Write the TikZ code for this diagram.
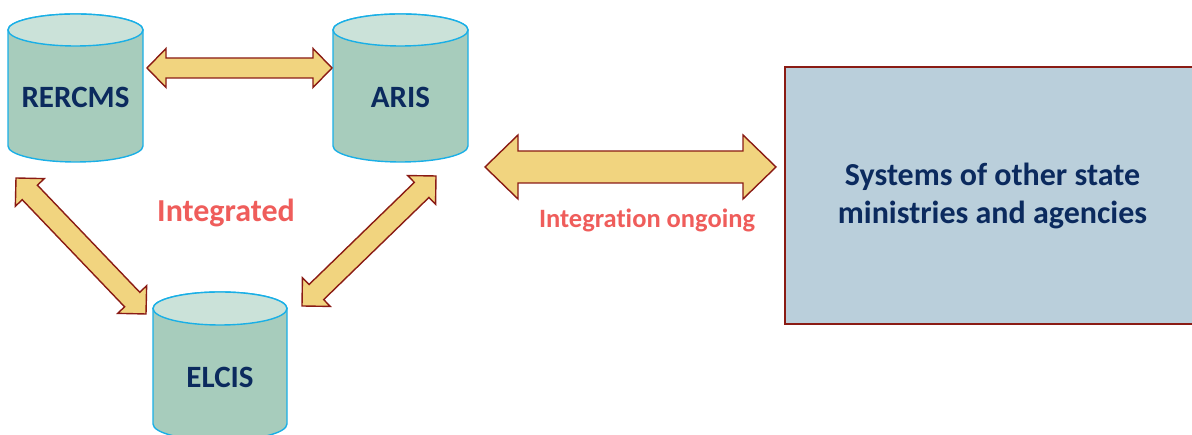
\documentclass[tikz,border=0pt]{standalone}
\usepackage{fontspec}
\setmainfont[Ligatures=NoCommon]{Carlito}
\usetikzlibrary{calc}
\definecolor{cylbody}{HTML}{A7CCBC}
\definecolor{cyltop}{HTML}{CBE2D9}
\definecolor{cylline}{HTML}{1AAFE6}
\definecolor{arrfill}{HTML}{F1D47F}
\definecolor{arrline}{HTML}{8A1B14}
\definecolor{boxfill}{HTML}{BACFDB}
\definecolor{navy}{HTML}{0B2A5E}
\definecolor{lblred}{HTML}{EF5D5B}
\tikzset{
  cylbodystyle/.style={fill=cylbody,draw=cylline,line width=1.4pt},
  cyltopstyle/.style={fill=cyltop,draw=cylline,line width=1.4pt},
  cyltext/.style={text=navy,font=\bfseries\fontsize{31}{36}\selectfont,inner sep=0pt},
  blockarr/.style={fill=arrfill,draw=arrline,line width=1.4pt,line join=miter},
  lbl/.style={text=lblred,font=\bfseries\fontsize{#1}{#1}\selectfont,inner sep=0pt,anchor=base},
  sysbox/.style={fill=boxfill,draw=arrline,line width=1.4pt,text=navy,align=center,
    font=\bfseries\fontsize{32}{38}\selectfont,inner sep=0pt}
}
% #1 name, #2 cx, #3 top y, #4 bottom y, #5 rx, #6 ry, #7 text y, #8 text
\newcommand\dbcyl[8]{%
  \path[cylbodystyle] (#2-#5,#3) -- (#2-#5,#4)
     arc[start angle=180,end angle=360,x radius=#5,y radius=#6]
     -- (#2+#5,#3) arc[start angle=0,end angle=180,x radius=#5,y radius=#6] -- cycle;
  \path[cyltopstyle] (#2,#3) ellipse[x radius=#5,y radius=#6];
  \node[cyltext] (#1) at (#2,#7) {#8};
}
% #1,#2 tip coordinates; #3 shaft half width; #4 head half width; #5 head length
\newcommand\blockarrow[5]{%
  \draw[blockarr] (#1)
   -- ($(#1)!#5!(#2)!#4!90:(#2)$)
   -- ($(#1)!#5!(#2)!#3!90:(#2)$)
   -- ($(#2)!#5!(#1)!#3!-90:(#1)$)
   -- ($(#2)!#5!(#1)!#4!-90:(#1)$)
   -- (#2)
   -- ($(#2)!#5!(#1)!#4!90:(#1)$)
   -- ($(#2)!#5!(#1)!#3!90:(#1)$)
   -- ($(#1)!#5!(#2)!#3!-90:(#2)$)
   -- ($(#1)!#5!(#2)!#4!-90:(#2)$)
   -- cycle;}
\begin{document}
\begin{tikzpicture}[x=1pt,y=1pt]
\useasboundingbox (0,0) rectangle (1192,435);
% cylinders
\dbcyl{rercms}{75.5}{405}{289}{67.5}{16}{338}{RERCMS}
\dbcyl{aris}{400.5}{405}{289}{67.5}{16}{338}{ARIS}
\dbcyl{elcis}{220}{126.5}{11}{67}{16.5}{58}{ELCIS}
% box
\node[sysbox,minimum width=415pt,minimum height=257pt] (sys) at (992.5,239.5)
  {Systems of other state\\ministries and agencies};
% arrow tips
\coordinate (t1a) at (147,367);
\coordinate (t1b) at (332,367);
\coordinate (t2a) at (16,257);
\coordinate (t2b) at (146,121);
\coordinate (t3a) at (436,259);
\coordinate (t3b) at (302,129);
\coordinate (t4a) at (485,268);
\coordinate (t4b) at (776,268);
\blockarrow{t1a}{t1b}{10pt}{19.5pt}{19pt}
\blockarrow{t2a}{t2b}{10.5pt}{20pt}{20pt}
\blockarrow{t3a}{t3b}{10.5pt}{20pt}{20pt}
\blockarrow{t4a}{t4b}{16pt}{32pt}{33pt}
% labels
\node[lbl=32] (integrated) at (226,213) {Integrated};
\node[lbl=26.5] (ongoing) at (647,207) {Integration ongoing};
\end{tikzpicture}
\end{document}
